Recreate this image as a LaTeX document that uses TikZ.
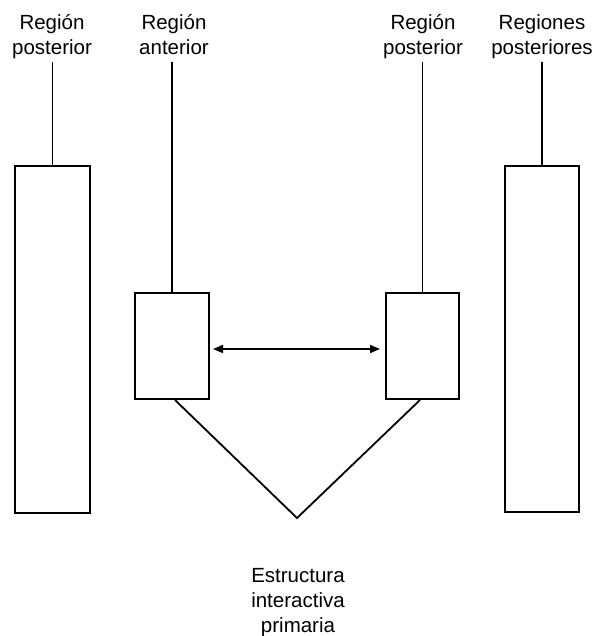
\documentclass[tikz,border=0pt]{standalone}
\usepackage{fontspec}
\setmainfont{Liberation Sans}
\usetikzlibrary{arrows.meta}
\tikzset{
  boxshape/.style={draw, line width=2pt, inner sep=0pt, rectangle},
  lbl/.style={align=center, inner sep=0pt, anchor=base, font=\fontsize{20.5}{25}\selectfont},
  conn/.style={line width=1.8pt},
}
\begin{document}
\begin{tikzpicture}[x=1pt,y=-1pt]
\useasboundingbox (0,0) rectangle (597,636);
% boxes
\node[boxshape, minimum width=75pt, minimum height=347pt] (bigL) at (52.5,339.5) {};
\node[boxshape, minimum width=74pt, minimum height=106pt] (smL) at (172,346) {};
\node[boxshape, minimum width=73pt, minimum height=106pt] (smR) at (422.5,346) {};
\node[boxshape, minimum width=74pt, minimum height=346pt] (bigR) at (542,339) {};
% labels (anchor = baseline of last line)
\node[lbl] (labL) at (52,55) {Región\\posterior};
\node[lbl] (labA) at (174,55) {Región\\anterior};
\node[lbl] (labP) at (423,55) {Región\\posterior};
\node[lbl] (labR) at (542,55) {Regiones\\posteriores};
\node[lbl] (labE) at (298,632) {Estructura\\interactiva\\primaria};
% vertical lines
\draw[conn] (bigL.north) -- (bigL.north |- 0,62);
\draw[conn] (smL.north) -- (smL.north |- 0,62);
\draw[conn] (smR.north) -- (smR.north |- 0,62);
\draw[conn] (bigR.north) -- (bigR.north |- 0,62);
% arrow
\draw[conn, line width=1.5pt, {Triangle[length=10pt,width=8pt]}-{Triangle[length=10pt,width=8pt]}]
  ([xshift=3pt,yshift=-3pt]smL.east) -- ([xshift=-5pt,yshift=-3pt]smR.west);
% V
\coordinate (apex) at (297,518);
\draw[conn] ([xshift=3pt]smL.south) -- (apex) -- ([xshift=-2.5pt]smR.south);
\end{tikzpicture}
\end{document}
